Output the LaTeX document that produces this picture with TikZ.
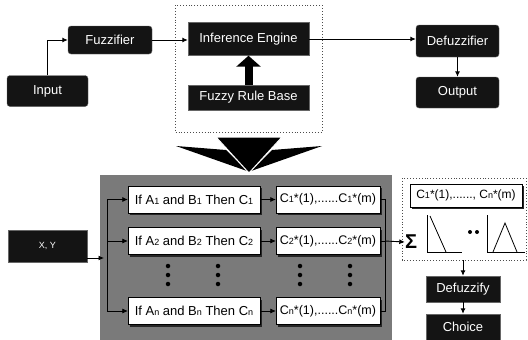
\documentclass[tikz,border=0pt]{standalone}
\usepackage{fontspec}
\setmainfont{Liberation Sans}
\usetikzlibrary{arrows.meta,shadows}
\newcommand{\smallidx}[1]{{\fontsize{9}{9}\selectfont #1}}
\begin{document}
\begin{tikzpicture}[x=1pt,y=-1pt,
  blk/.style={fill=black!92,draw=black!60,text=white,inner sep=0pt,font=\fontsize{13}{13}\selectfont},
  rblk/.style={blk,rounded corners=3pt},
  wbox/.style={fill=white,draw=black,line width=0.4pt,inner sep=0pt,font=\fontsize{13}{13}\selectfont,
     drop shadow={shadow xshift=2pt,shadow yshift=-2pt,fill=black!85,opacity=1}},
  dotbox/.style={draw=black!70,dotted,line width=0.9pt},
  arr/.style={-{Latex[length=5.5pt,width=5pt]},line width=0.9pt},
  dotc/.style={fill=black,circle,inner sep=0pt,minimum size=4.5pt}]
\useasboundingbox (0,0) rectangle (528,340);
% top part
\node[rblk,minimum width=81pt,minimum height=31pt] (input) at (47.5,91) {Input};
\node[rblk,minimum width=84pt,minimum height=28pt] (fuzz) at (110,40) {Fuzzifier};
\draw[dotbox] (175,5) rectangle (322,132);
\node[blk,minimum width=121pt,minimum height=33pt] (ie) at (248.5,39) {Inference Engine};
\node[blk,minimum width=121pt,minimum height=25pt] (frb) at (248.5,97.5) {Fuzzy Rule Base};
\node[rblk,minimum width=83pt,minimum height=32pt] (defz) at (457.5,41) {Defuzzifier};
\node[rblk,minimum width=83pt,minimum height=31pt] (out) at (457.5,92.5) {Output};
\coordinate (inbend) at (input.north |- fuzz.west);
\draw[arr] (input.north) -- (inbend) -- (fuzz.west);
\draw[arr] (fuzz.east) -- (fuzz.east -| ie.west);
\draw[arr] (ie.east) -- (ie.east -| defz.west);
\draw[arr] (defz.south) -- (out.north);
\draw[line width=8pt,-{Triangle[width=24pt,length=11pt]}] (frb.north) -- (ie.south);
% funnel
\fill[black] (176,146) -- (226,150) -- (247,171) -- cycle;
\fill[black] (322,146) -- (272,150) -- (251,171) -- cycle;
\filldraw[fill=black,draw=white,line width=1pt] (216,137) -- (282,137) -- (249,173) -- cycle;
% bottom panel
\fill[black!52] (100,175) rectangle (392,340);
\node[blk,minimum width=79pt,minimum height=32pt,font=\fontsize{9}{9}\selectfont] (xy) at (47.5,246) {X, Y};
\foreach \n/\y/\i in {1/199.5/1,2/241/2,n/311/n}{
  \node[wbox,minimum width=132pt,minimum height=27pt] (r\n) at (194,\y)
     {If A\smallidx{\i} and B\smallidx{\i} Then C\smallidx{\i}};
  \node[wbox,minimum width=104pt,minimum height=27pt,font=\fontsize{12.5}{12.5}\selectfont] (c\n) at (328,\y)
     {C\smallidx{\i}*(1),......C\smallidx{\i}*(m)};
  \draw[arr,line width=0.7pt] (r\n.east) -- (c\n.west);
}
\coordinate (vtop) at (107,199.5);
\coordinate (vbot) at (107,311);
\draw[line width=0.9pt] (vtop) -- (vbot);
\draw[arr,line width=0.7pt] (vtop) -- (r1.west);
\draw[arr,line width=0.7pt] (vtop |- r2.west) -- (r2.west);
\draw[arr,line width=0.7pt] (vbot) -- (rn.west);
\coordinate (xyend) at (104,258);
\draw[arr] (xy.east |- xyend) -- (xyend);
\foreach \x in {168,218,300,350}{
  \foreach \y in {266,275,284}{ \node[dotc] at (\x,\y) {}; } }
\coordinate (rtop) at (385,199.5);
\coordinate (rbot) at (385,311);
\draw[line width=0.7pt] (c1.east) -- (rtop) -- (rbot) -- (cn.east);
\draw[line width=0.7pt] (c2.east) -- (c2.east -| rtop);
% right dotted box
\draw[dotbox] (402,178) rectangle (526,260);
\node[wbox,minimum width=112pt,minimum height=23pt,font=\fontsize{12}{12}\selectfont] (cs) at (466,195.5)
   {C\smallidx{1}*(1),......, C\smallidx{n}*(m)};
\node[inner sep=0pt,font=\fontsize{20}{20}\selectfont\bfseries] (sig) at (411,242) {Σ};
\draw[arr] (c2.east -| rtop) -- (sig.west);
\draw[line width=0.8pt] (427,215) -- (427,252) -- (462,252);
\draw[line width=0.8pt] (430,216) -- (446,252);
\draw[line width=0.8pt] (487,215) -- (487,252) -- (525,252);
\draw[line width=0.8pt] (493,252) -- (505,223) -- (517,252);
\node[dotc,minimum size=4pt] at (470,232) {};
\node[dotc,minimum size=4pt] at (477,232) {};
\node[blk,minimum width=74pt,minimum height=26pt] (defy) at (463,289) {Defuzzify};
\node[blk,minimum width=74pt,minimum height=26pt] (choice) at (463,327) {Choice};
\coordinate (dbot) at (463,260);
\draw[arr] (dbot) -- (defy.north);
\draw[arr] (defy.south) -- (choice.north);
\end{tikzpicture}
\end{document}
